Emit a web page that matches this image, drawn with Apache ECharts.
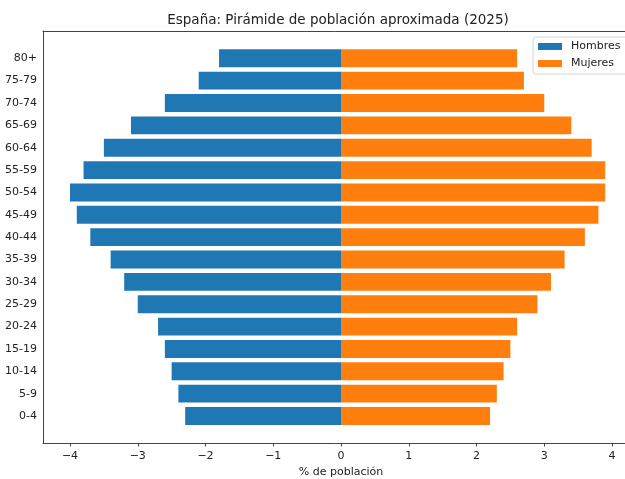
<!DOCTYPE html>
<html>
<head>
<meta charset="utf-8">
<script src="https://cdn.jsdelivr.net/npm/echarts@6/dist/echarts.min.js"></script>
<style>
html,body{margin:0;padding:0;background:#fff;}
#chart{width:625px;height:479px;}
</style>
</head>
<body>
<div id="chart"></div>
<script>
const categories = ['0-4','5-9','10-14','15-19','20-24','25-29','30-34','35-39','40-44','45-49','50-54','55-59','60-64','65-69','70-74','75-79','80+'];
const hombres = [-2.3,-2.4,-2.5,-2.6,-2.7,-3.0,-3.2,-3.4,-3.7,-3.9,-4.0,-3.8,-3.5,-3.1,-2.6,-2.1,-1.8];
const mujeres = [2.2,2.3,2.4,2.5,2.6,2.9,3.1,3.3,3.6,3.8,3.9,3.9,3.7,3.4,3.0,2.7,2.6];
const xTicks = [-4,-3,-2,-1,0,1,2,3,4];

const FONT = 'DejaVu Sans';
const SPINE = {show:true,lineStyle:{color:'#444',width:1}};
const chart = echarts.init(document.getElementById('chart'), null, {renderer:'canvas'});
chart.setOption({
  animation:false,
  backgroundColor:'#fff',
  textStyle:{fontFamily:FONT},
  title:{
    text:'España: Pirámide de población aproximada (2025)',
    left:333, top:8, textAlign:'center',
    textStyle:{fontFamily:FONT,fontSize:13.5,fontWeight:'normal',color:'#222'}
  },
  legend:{
    orient:'vertical', left:533, top:37,
    data:['Hombres','Mujeres'],
    icon:'rect', itemWidth:24, itemHeight:7, itemGap:6,
    padding:[4,20,5,5],
    backgroundColor:'rgba(255,255,255,0.8)',
    borderColor:'#d6d6d6', borderWidth:1, borderRadius:3,
    textStyle:{fontFamily:FONT,fontSize:11,color:'#222',padding:[0,0,0,4]}
  },
  grid:[
    {left:43,width:589,top:31,bottom:36,show:false,outerBoundsMode:'none',containLabel:false},
    {left:70,width:542,top:47.1,bottom:51.8,outerBoundsMode:'none',containLabel:false}
  ],
  xAxis:[
    {gridIndex:0,type:'value',position:'bottom',min:0,max:1,axisLine:SPINE,axisTick:{show:false},axisLabel:{show:false},splitLine:{show:false}},
    {gridIndex:0,type:'value',position:'top',min:0,max:1,axisLine:SPINE,axisTick:{show:false},axisLabel:{show:false},splitLine:{show:false}},
    {gridIndex:1,type:'value',min:-4,max:4,interval:1,position:'bottom',offset:15.8,
     name:'% de población',nameLocation:'middle',nameGap:24,
     nameTextStyle:{fontFamily:FONT,fontSize:11,color:'#222'},
     axisLine:{show:false},
     axisTick:{show:true,length:3.5,lineStyle:{color:'#444'}},
     axisLabel:{fontFamily:FONT,fontSize:11,color:'#222',margin:8,
       formatter:function(v){return String(v).replace('-','\u2212');}},
     splitLine:{show:false}}
  ],
  yAxis:[
    {gridIndex:0,type:'value',position:'left',min:0,max:1,axisLine:SPINE,axisTick:{show:false},axisLabel:{show:false},splitLine:{show:false}},
    {gridIndex:1,type:'category',data:categories,offset:27,
     axisLine:{show:false},
     axisTick:{show:true,alignWithLabel:true,length:3.5,lineStyle:{color:'#444'}},
     axisLabel:{fontFamily:FONT,fontSize:11,color:'#222',margin:6},
     splitLine:{show:false}}
  ],
  series:[
    {name:'Hombres',type:'bar',xAxisIndex:2,yAxisIndex:1,data:hombres,barWidth:'80%',barGap:'-100%',
     itemStyle:{color:'#1f77b4'}},
    {name:'Mujeres',type:'bar',xAxisIndex:2,yAxisIndex:1,data:mujeres,barWidth:'80%',barGap:'-100%',
     itemStyle:{color:'#ff7f0e'}}
  ]
});
</script>
</body>
</html>
